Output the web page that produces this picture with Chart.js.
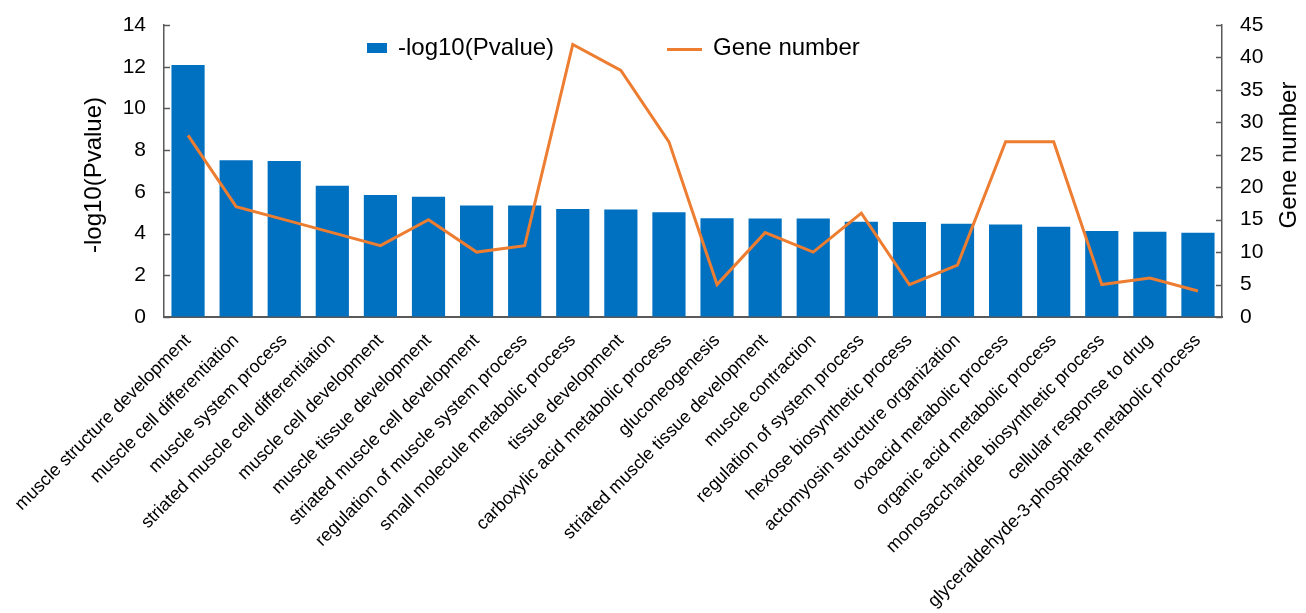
<!DOCTYPE html>
<html lang="en">
<head>
    <meta charset="UTF-8">
    <title>GO enrichment: -log10(Pvalue) and gene number</title>
    <script src="https://cdn.jsdelivr.net/npm/chart.js/dist/chart.umd.min.js"></script>
    <style>
        body { margin: 0; background: #fff; }
        .chartBox { position: relative; width: 1306px; height: 613px; }
    </style>
</head>
<body>
    <div class="chartBox">
        <canvas id="goChart" width="1306" height="613"></canvas>
    </div>

    <script>
        // GO terms, in plotted order
        const terms = [
            'muscle structure development',
            'muscle cell differentiation',
            'muscle system process',
            'striated muscle cell differentiation',
            'muscle cell development',
            'muscle tissue development',
            'striated muscle cell development',
            'regulation of muscle system process',
            'small molecule metabolic process',
            'tissue development',
            'carboxylic acid metabolic process',
            'gluconeogenesis',
            'striated muscle tissue development',
            'muscle contraction',
            'regulation of system process',
            'hexose biosynthetic process',
            'actomyosin structure organization',
            'oxoacid metabolic process',
            'organic acid metabolic process',
            'monosaccharide biosynthetic process',
            'cellular response to drug',
            'glyceraldehyde-3-phosphate metabolic process'
        ];

        const logP = [12.08, 7.51, 7.48, 6.29, 5.85, 5.77, 5.34, 5.34, 5.18, 5.15, 5.02,
                      4.74, 4.72, 4.72, 4.57, 4.55, 4.47, 4.44, 4.33, 4.12, 4.09, 4.04];

        const geneNumber = [28, 17, 15, 13, 11, 15, 10, 11, 42, 38, 27,
                            5, 13, 10, 16, 5, 8, 27, 27, 5, 6, 4];

        const leftTicks = [0, 2, 4, 6, 8, 10, 12, 14];
        const rightTicks = [0, 5, 10, 15, 20, 25, 30, 35, 40, 45];

        const BLUE = '#0070C0';
        const ORANGE = '#ED7D31';
        const AXIS = '#595959';
        const FONT = "'Liberation Sans', Arial, sans-serif";

        // tick marks pointing into the plot, plus axis titles and legend
        const decorations = {
            id: 'decorations',
            afterDraw(chart) {
                const ctx = chart.ctx;
                const area = chart.chartArea;
                const yL = chart.scales.y;
                const yR = chart.scales.y1;

                ctx.save();
                ctx.strokeStyle = AXIS;
                ctx.lineWidth = 1.5;
                leftTicks.forEach(v => {
                    const py = Math.round(yL.getPixelForValue(v)) + 0.5;
                    ctx.beginPath();
                    ctx.moveTo(area.left, py);
                    ctx.lineTo(area.left + 6, py);
                    ctx.stroke();
                });
                rightTicks.forEach(v => {
                    const py = Math.round(yR.getPixelForValue(v)) + 0.5;
                    ctx.beginPath();
                    ctx.moveTo(area.right, py);
                    ctx.lineTo(area.right - 6, py);
                    ctx.stroke();
                });

                // axis titles
                ctx.fillStyle = '#000';
                ctx.font = '24px ' + FONT;
                ctx.textAlign = 'center';
                ctx.textBaseline = 'middle';
                ctx.save();
                ctx.translate(94, 175);
                ctx.rotate(-Math.PI / 2);
                ctx.fillText('-log10(Pvalue)', 0, 0);
                ctx.restore();
                ctx.save();
                ctx.translate(1289, 155);
                ctx.rotate(-Math.PI / 2);
                ctx.fillText('Gene number', 0, 0);
                ctx.restore();

                // legend
                ctx.font = '24px ' + FONT;
                ctx.textAlign = 'left';
                ctx.textBaseline = 'alphabetic';
                ctx.fillStyle = BLUE;
                ctx.fillRect(367, 43, 20, 10);
                ctx.fillStyle = '#000';
                ctx.fillText('-log10(Pvalue)', 398, 55);
                ctx.strokeStyle = ORANGE;
                ctx.lineWidth = 3;
                ctx.beginPath();
                ctx.moveTo(667, 49.5);
                ctx.lineTo(702, 49.5);
                ctx.stroke();
                ctx.fillText('Gene number', 713, 55);
                ctx.restore();
            }
        };

        const ctx = document.getElementById('goChart').getContext('2d');
        const goChart = new Chart(ctx, {
            type: 'bar',
            data: {
                labels: terms,
                datasets: [{
                    type: 'line',
                    label: 'Gene number',
                    data: geneNumber,
                    yAxisID: 'y1',
                    borderColor: ORANGE,
                    backgroundColor: ORANGE,
                    borderWidth: 3,
                    pointRadius: 0,
                    tension: 0,
                    order: 0
                }, {
                    type: 'bar',
                    label: '-log10(Pvalue)',
                    data: logP,
                    yAxisID: 'y',
                    backgroundColor: BLUE,
                    categoryPercentage: 1,
                    barPercentage: 0.69,
                    order: 1
                }]
            },
            options: {
                responsive: false,
                animation: false,
                layout: { padding: { top: 25, left: 0, right: 0, bottom: 0 } },
                plugins: {
                    legend: { display: false },
                    tooltip: { enabled: false }
                },
                scales: {
                    x: {
                        grid: { display: false, drawTicks: false },
                        border: { display: true, color: AXIS, width: 2 },
                        ticks: {
                            autoSkip: false,
                            maxRotation: 45,
                            minRotation: 45,
                            padding: 13,
                            color: '#000',
                            font: { family: FONT, size: 18 }
                        },
                        afterFit(scale) {
                            scale.height = 296;
                            scale.paddingLeft = 0;
                            scale.paddingRight = 0;
                        }
                    },
                    y: {
                        position: 'left',
                        min: 0,
                        max: 14,
                        afterBuildTicks(scale) {
                            scale.ticks = leftTicks.map(v => ({ value: v }));
                        },
                        grid: { drawOnChartArea: false, drawTicks: false },
                        border: { display: true, color: AXIS, width: 1.5 },
                        ticks: {
                            padding: 18,
                            color: '#000',
                            font: { family: FONT, size: 21 }
                        },
                        afterFit(scale) {
                            scale.width = 164;
                            scale.paddingTop = 0;
                            scale.paddingBottom = 0;
                        }
                    },
                    y1: {
                        position: 'right',
                        min: 0,
                        max: 45,
                        afterBuildTicks(scale) {
                            scale.ticks = rightTicks.map(v => ({ value: v }));
                        },
                        grid: { drawOnChartArea: false, drawTicks: false },
                        border: { display: true, color: AXIS, width: 1.5 },
                        ticks: {
                            padding: 18,
                            color: '#000',
                            font: { family: FONT, size: 21 }
                        },
                        afterFit(scale) {
                            scale.width = 84;
                            scale.paddingTop = 0;
                            scale.paddingBottom = 0;
                        }
                    }
                }
            },
            plugins: [decorations]
        });
    </script>
</body>
</html>
